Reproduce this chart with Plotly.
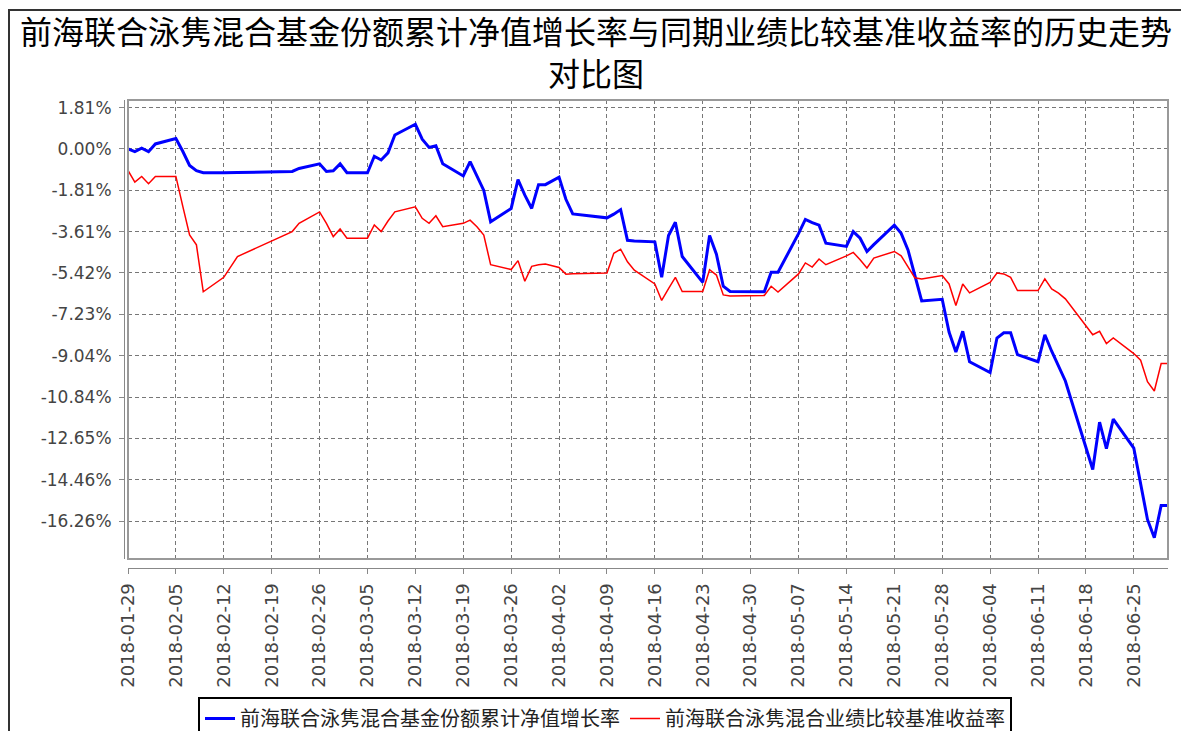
import plotly.graph_objects as go

# ---------------- data ----------------
dates = [
    "2018-01-29", "2018-01-30", "2018-01-31", "2018-02-01", "2018-02-02",
    "2018-02-05", "2018-02-06", "2018-02-07", "2018-02-08", "2018-02-09",
    "2018-02-12", "2018-02-13", "2018-02-14",
    "2018-02-22", "2018-02-23",
    "2018-02-26", "2018-02-27", "2018-02-28", "2018-03-01", "2018-03-02",
    "2018-03-05", "2018-03-06", "2018-03-07", "2018-03-08", "2018-03-09",
    "2018-03-12", "2018-03-13", "2018-03-14", "2018-03-15", "2018-03-16",
    "2018-03-19", "2018-03-20", "2018-03-21", "2018-03-22", "2018-03-23",
    "2018-03-26", "2018-03-27", "2018-03-28", "2018-03-29", "2018-03-30", "2018-03-31",
    "2018-04-02", "2018-04-03", "2018-04-04",
    "2018-04-09", "2018-04-10", "2018-04-11", "2018-04-12", "2018-04-13",
    "2018-04-16", "2018-04-17", "2018-04-18", "2018-04-19", "2018-04-20",
    "2018-04-23", "2018-04-24", "2018-04-25", "2018-04-26", "2018-04-27",
    "2018-05-02", "2018-05-03", "2018-05-04",
    "2018-05-07", "2018-05-08", "2018-05-09", "2018-05-10", "2018-05-11",
    "2018-05-14", "2018-05-15", "2018-05-16", "2018-05-17", "2018-05-18",
    "2018-05-21", "2018-05-22", "2018-05-23", "2018-05-24", "2018-05-25",
    "2018-05-28", "2018-05-29", "2018-05-30", "2018-05-31", "2018-06-01",
    "2018-06-04", "2018-06-05", "2018-06-06", "2018-06-07", "2018-06-08",
    "2018-06-11", "2018-06-12", "2018-06-13", "2018-06-14", "2018-06-15",
    "2018-06-19", "2018-06-20", "2018-06-21", "2018-06-22",
    "2018-06-25", "2018-06-26", "2018-06-27", "2018-06-28", "2018-06-29", "2018-06-30",
]

fund_growth = [
    0.00, -0.12, 0.03, -0.12, 0.22,
    0.46, -0.10, -0.72, -0.95, -1.04,
    -1.04, -1.04, -1.03,
    -0.98, -0.85,
    -0.65, -0.98, -0.95, -0.65, -1.04,
    -1.04, -0.32, -0.48, -0.17, 0.61,
    1.08, 0.43, 0.07, 0.14, -0.65,
    -1.18, -0.55, -1.15, -1.81, -3.18,
    -2.60, -1.34, -2.02, -2.60, -1.56, -1.56,
    -1.23, -2.20, -2.84,
    -3.01, -2.85, -2.65, -3.99, -4.02,
    -4.06, -5.61, -3.78, -3.20, -4.70,
    -5.83, -3.78, -4.60, -6.00, -6.23,
    -6.24, -5.39, -5.39,
    -3.70, -3.08, -3.22, -3.33, -4.12,
    -4.26, -3.61, -3.90, -4.48, -4.18,
    -3.33, -3.69, -4.41, -5.57, -6.64,
    -6.57, -8.00, -8.87, -7.97, -9.30,
    -9.77, -8.26, -8.03, -8.03, -8.99,
    -9.30, -8.12, -8.84, -9.49, -10.14,
    -14.01, -11.94, -13.10, -11.81,
    -13.07, -14.60, -16.19, -16.99, -15.58, -15.58,
]

benchmark = [
    -0.94, -1.45, -1.20, -1.52, -1.20,
    -1.20, -2.50, -3.76, -4.19, -6.24,
    -5.61, -5.15, -4.70,
    -3.61, -3.25,
    -2.75, -3.25, -3.83, -3.50, -3.90,
    -3.90, -3.32, -3.61, -3.15, -2.75,
    -2.53, -3.03, -3.25, -2.92, -3.40,
    -3.25, -3.11, -3.40, -3.76, -5.06,
    -5.27, -4.88, -5.78, -5.13, -5.06, -5.03,
    -5.18, -5.47, -5.45,
    -5.42, -4.56, -4.38, -4.93, -5.30,
    -5.90, -6.62, -6.10, -5.61, -6.23,
    -6.23, -5.28, -5.51, -6.38, -6.43,
    -6.40, -6.00, -6.25,
    -5.46, -4.98, -5.16, -4.81, -5.06,
    -4.67, -4.52, -4.84, -5.20, -4.77,
    -4.48, -4.67, -5.15, -5.63, -5.68,
    -5.53, -5.90, -6.84, -5.90, -6.29,
    -5.83, -5.42, -5.46, -5.61, -6.19,
    -6.19, -5.68, -6.12, -6.30, -6.55,
    -8.12, -7.97, -8.51, -8.26,
    -8.94, -9.23, -10.17, -10.58, -9.38, -9.38,
]

y_tick_values = [1.81, 0.00, -1.81, -3.61, -5.42, -7.23, -9.04, -10.84, -12.65, -14.46, -16.26]
y_tick_labels = [f"{v:.2f}%" for v in y_tick_values]

series_names = ["前海联合泳隽混合基金份额累计净值增长率", "前海联合泳隽混合业绩比较基准收益率"]
title_line1 = "前海联合泳隽混合基金份额累计净值增长率与同期业绩比较基准收益率的历史走势"
title_line2 = "对比图"

# ---------------- layout geometry (reference pixel coords, page has 8px body margin) ----------------
OFF = 8
W, H = 1189 - OFF, 731 - OFF
AXIS_X_REF = 124        # y-axis line
AXIS_Y_REF = 568        # x-axis line
BOX = (128, 100, 1168, 559)  # plot frame: left, top, right, bottom

ML = AXIS_X_REF - OFF
MT = BOX[1] - OFF
MR = W - (BOX[2] - OFF)
MB = H - (AXIS_Y_REF - OFF)
PW = W - ML - MR
PH = H - MT - MB


def px(x_ref):
    return (x_ref - OFF - ML) / PW


def py(y_ref):
    return (AXIS_Y_REF - y_ref) / PH


x_dom0 = px(BOX[0])
y_dom0 = py(BOX[3])

cjk = "Noto Sans CJK SC"
tickfam = "DejaVu Sans, sans-serif"

fig = go.Figure()
fig.add_trace(go.Scatter(x=dates, y=fund_growth, mode="lines", name=series_names[0],
                         line=dict(color="#0000FF", width=3)))
fig.add_trace(go.Scatter(x=dates, y=benchmark, mode="lines", name=series_names[1],
                         line=dict(color="#FF0000", width=1.5)))

grid_dash = "4px,3px"
fig.update_layout(
    width=W, height=H,
    margin=dict(l=ML, r=MR, t=MT, b=MB, autoexpand=False),
    paper_bgcolor="white", plot_bgcolor="white",
    showlegend=True,
    legend=dict(orientation="h", x=px(605), xanchor="center", y=py(697), yanchor="top",
                bordercolor="#000000", borderwidth=2, bgcolor="white",
                font=dict(family=cjk, size=20, color="#222222"),
                itemwidth=30, tracegroupgap=0),
    xaxis=dict(
        type="date", range=["2018-01-29", "2018-06-30"],
        domain=[x_dom0, 1], anchor="free", position=0,
        tick0="2018-01-29", dtick=7 * 86400000, tickformat="%Y-%m-%d",
        tickangle=-90, ticks="outside", ticklen=5, tickcolor="#888888",
        ticklabelstandoff=2,
        showline=True, linecolor="#888888", linewidth=1,
        showgrid=True, gridcolor="#777777", griddash=grid_dash, gridwidth=1,
        zeroline=False,
        tickfont=dict(family=tickfam, size=18, color="#444444"),
    ),
    yaxis=dict(
        range=[-17.92, 2.14], domain=[y_dom0, 1], anchor="free", position=0,
        tickmode="array", tickvals=y_tick_values, ticktext=y_tick_labels,
        ticks="outside", ticklen=5, tickcolor="#888888",
        ticklabelstandoff=4,
        showline=True, linecolor="#888888", linewidth=1,
        showgrid=True, gridcolor="#777777", griddash=grid_dash, gridwidth=1,
        zeroline=False,
        tickfont=dict(family=tickfam, size=17, color="#444444"),
    ),
    shapes=[
        dict(type="rect", xref="paper", yref="paper", x0=x_dom0, x1=1, y0=y_dom0, y1=1,
             line=dict(color="#999999", width=2)),
        dict(type="rect", xref="paper", yref="paper", x0=px(9), x1=px(1186), y0=py(760), y1=py(10),
             line=dict(color="#333333", width=2)),
    ],
    annotations=[
        dict(text=title_line1 + "<br>" + title_line2, xref="paper", yref="paper",
             x=px(596), y=py(51), xanchor="center", yanchor="middle", align="center",
             showarrow=False, font=dict(family=cjk, size=32, color="#000000")),
    ],
)

fig.write_html("out.html")
